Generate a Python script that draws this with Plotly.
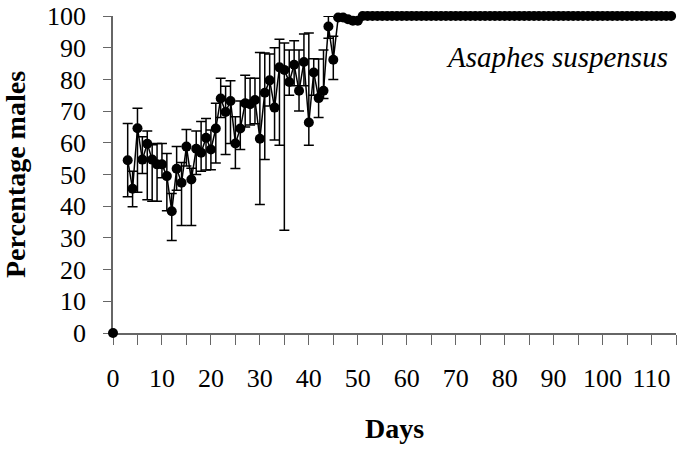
import plotly.graph_objects as go

# ---- data ----
days = [3, 4, 5, 6, 7, 8, 9, 10, 11, 12, 13, 14, 15, 16, 17, 18, 19, 20, 21, 22,
        23, 24, 25, 26, 27, 28, 29, 30, 31, 32, 33, 34, 35, 36, 37, 38, 39, 40, 41,
        42, 43, 44, 45]
pct_males = [54.5, 45.5, 64.6, 54.7, 59.7, 54.7, 53.2, 53.2, 49.5, 38.4, 51.8, 47.4,
             58.8, 48.4, 58.1, 56.9, 61.6, 57.9, 64.5, 74.0, 69.7, 73.2, 59.8, 64.5,
             72.5, 72.2, 73.5, 61.3, 75.8, 79.7, 71.1, 83.8, 83.0, 79.2, 84.6, 76.4,
             85.5, 66.4, 82.2, 74.1, 76.4, 96.7, 86.2]
upper = [66.1, 51.0, 70.9, 61.9, 63.7, 59.4, 59.8, 59.8, 56.6, 44.0, 58.8, 53.8,
         64.2, 52.0, 63.7, 66.7, 67.7, 64.0, 72.5, 80.4, 77.8, 79.6, 68.2, 73.2,
         81.3, 80.4, 80.4, 88.5, 88.3, 88.0, 90.0, 92.7, 91.5, 89.3, 92.2, 89.3,
         94.3, 94.6, 86.5, 86.4, 89.3, 99.9, 93.6]
lower = [43.0, 39.8, 44.4, 50.3, 42.0, 41.6, 41.6, 49.0, 38.6, 29.2, 45.0, 33.9,
         52.7, 33.9, 50.0, 51.0, 51.4, 51.5, 53.6, 68.0, 56.3, 59.8, 51.9, 57.9,
         65.0, 65.6, 66.0, 40.5, 54.7, 71.6, 60.9, 59.2, 32.4, 75.0, 78.0, 70.0,
         78.0, 59.2, 75.0, 68.0, 74.0, 93.0, 80.0]

late_days = [46, 47, 48, 49, 50, 51, 52, 53, 54, 55, 56, 57, 58, 59, 60, 61, 62, 63,
             64, 65, 66, 67, 68, 69, 70, 71, 72, 73, 74, 75, 76, 77, 78, 79, 80, 81,
             82, 83, 84, 85, 86, 87, 88, 89, 90, 91, 92, 93, 94, 95, 96, 97, 98, 99,
             100, 101, 102, 103, 104, 105, 106, 107, 108, 109, 110, 111, 112, 113, 114]
late_pct = [99.5, 99.5, 99.0, 98.5, 98.5] + [100] * 64

start_day = [0]
start_pct = [0]

x_ticks = [0, 10, 20, 30, 40, 50, 60, 70, 80, 90, 100, 110]
y_ticks = [0, 10, 20, 30, 40, 50, 60, 70, 80, 90, 100]

err_plus = [u - v for u, v in zip(upper, pct_males)]
err_minus = [v - l for v, l in zip(pct_males, lower)]

FONT = "Liberation Serif, Times New Roman, serif"

fig = go.Figure()
fig.add_trace(go.Scatter(
    x=days + late_days, y=pct_males + late_pct,
    mode="lines+markers",
    line=dict(color="black", width=1.5),
    marker=dict(color="black", size=10),
    error_y=dict(type="data", symmetric=False,
                 array=err_plus + [0] * len(late_days),
                 arrayminus=err_minus + [0] * len(late_days),
                 color="black", thickness=1.5, width=5),
    cliponaxis=False, showlegend=False, hoverinfo="skip"))
fig.add_trace(go.Scatter(
    x=start_day, y=start_pct, mode="markers",
    marker=dict(color="black", size=10),
    cliponaxis=False, showlegend=False, hoverinfo="skip"))

fig.add_annotation(text="<i>Asaphes suspensus</i>", xref="paper", yref="paper",
                   x=0.99, y=0.87, xanchor="right", yanchor="middle",
                   showarrow=False, font=dict(family=FONT, size=29, color="black"))

fig.update_layout(
    width=682, height=450,
    margin=dict(l=113, r=6, t=16, b=117),
    paper_bgcolor="white", plot_bgcolor="white",
    font=dict(family=FONT, size=26, color="black"),
)
fig.update_xaxes(range=[0, 115], tickvals=x_ticks, showgrid=False, zeroline=False,
                 automargin=False, layer="below traces", ticklabeloverflow="allow",
                 showline=True, linecolor="#666", linewidth=1.5,
                 ticks="outside", ticklen=10, tickcolor="#666", tickwidth=1.2,
                 minor=dict(dtick=5, tick0=0, ticks="outside", ticklen=10,
                            tickcolor="#666", tickwidth=1.2),
                 ticklabelstandoff=11,
                 title=dict(text="<b>Days</b>", font=dict(size=28), standoff=26))
fig.update_yaxes(range=[0, 100], tickvals=y_ticks, showgrid=False, zeroline=False,
                 automargin=False, layer="below traces", ticklabeloverflow="allow",
                 showline=True, linecolor="#666", linewidth=1.5,
                 ticks="outside", ticklen=8, tickcolor="#666", tickwidth=1.2,
                 ticklabelstandoff=12,
                 title=dict(text="<b>Percentage males</b>", font=dict(size=28), standoff=14))

# remove the page's default 8 px body margin so the figure fills the window exactly
fig.write_html("out.html", config={"displayModeBar": False},
               post_script="document.body.style.margin='0';")
